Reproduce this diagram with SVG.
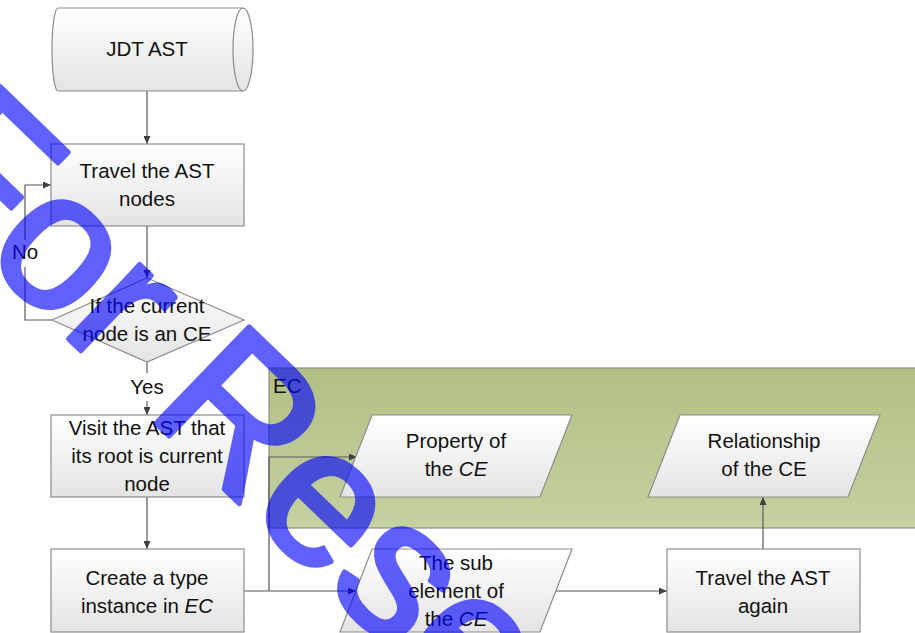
<svg xmlns="http://www.w3.org/2000/svg" width="915" height="633" viewBox="0 0 915 633">
<defs>
<linearGradient id="gNode" x1="0" y1="0" x2="0" y2="1">
<stop offset="0" stop-color="#ffffff"/><stop offset="1" stop-color="#e4e4e4"/>
</linearGradient>
<linearGradient id="gGreen" x1="0" y1="0" x2="0" y2="1">
<stop offset="0" stop-color="#b2c084"/><stop offset="1" stop-color="#c4d1a1"/>
</linearGradient>
<marker id="arr" markerWidth="8" markerHeight="7" refX="8" refY="3.5" orient="auto" markerUnits="userSpaceOnUse">
<path d="M0,0 L8,3.5 L0,7 Z" fill="#404040"/>
</marker>
</defs>
<style>
.n{fill:url(#gNode);stroke:#8c8c8c;stroke-width:1.2}
.t{font-family:"Liberation Sans",Arial,sans-serif;font-size:20.5px;fill:#111;text-anchor:middle}
.l{fill:none;stroke:#595959;stroke-width:1.2}
.a{marker-end:url(#arr)}
</style>
<rect width="915" height="633" fill="#ffffff"/>
<g id="ec">
<rect x="269" y="368" width="660" height="160" fill="url(#gGreen)" stroke="#8c8c8c" stroke-width="1.2"/>
<text x="273" y="393" class="t" style="text-anchor:start">EC</text>
</g>
<g id="connectors">
<path class="l a" d="M147,91 V144"/>
<path class="l a" d="M147,226 V278"/>
<path class="l" d="M52,320 H25 V267"/>
<path class="l a" d="M25,240 V185 H51"/>
<path class="l" d="M147,362 V373"/>
<path class="l a" d="M147,401 V415"/>
<path class="l a" d="M147,497 V549"/>
<path class="l a" d="M244,591 H356"/>
<path class="l a" d="M269,591 V457 H357"/>
<path class="l a" d="M556,591 H667"/>
<path class="l a" d="M763,549 V497"/>
</g>
<g id="jdt">
<path class="n" d="M58,8 H243 A10,41.5 0 0 1 243,91 H58 A6,41.5 0 0 1 58,8 Z"/>
<path d="M243,8 A10,41.5 0 0 0 243,91" fill="none" stroke="#8c8c8c" stroke-width="1.2"/>
<text x="147" y="56" class="t">JDT AST</text>
</g>
<g id="travel">
<rect class="n" x="51" y="144" width="193" height="82"/>
<text x="147" y="178" class="t">Travel the AST</text>
<text x="147" y="206" class="t">nodes</text>
</g>
<g id="decision">
<path class="n" d="M147,278 L244,320 L147,362 L52,320 Z"/>
<text x="147" y="313" class="t">If the current</text>
<text x="147" y="341" class="t">node is an CE</text>
</g>
<g id="no-label"><text x="25" y="259" class="t">No</text></g>
<g id="yes-label"><text x="147" y="394" class="t">Yes</text></g>
<g id="visit">
<rect class="n" x="51" y="415" width="193" height="82"/>
<text x="147" y="435" class="t">Visit the AST that</text>
<text x="147" y="463" class="t">its root is current</text>
<text x="147" y="491" class="t">node</text>
</g>
<g id="create">
<rect class="n" x="51" y="549" width="193" height="83"/>
<text x="147" y="585" class="t">Create a type</text>
<text x="147" y="613" class="t">instance in <tspan font-style="italic">EC</tspan></text>
</g>
<g id="property">
<path class="n" d="M372,415 H572 L540,497 H340 Z"/>
<text x="456" y="448" class="t">Property of</text>
<text x="456" y="476" class="t">the <tspan font-style="italic">CE</tspan></text>
</g>
<g id="relationship">
<path class="n" d="M680,415 H880 L848,497 H648 Z"/>
<text x="764" y="448" class="t">Relationship</text>
<text x="764" y="476" class="t">of the CE</text>
</g>
<g id="subelement">
<path class="n" d="M372,549 H572 L540,632 H340 Z"/>
<text x="456" y="570" class="t">The sub</text>
<text x="456" y="598" class="t">element of</text>
<text x="456" y="626" class="t">the <tspan font-style="italic">CE</tspan></text>
</g>
<g id="travel-again">
<rect class="n" x="667" y="549" width="193" height="83"/>
<text x="763" y="585" class="t">Travel the AST</text>
<text x="763" y="613" class="t">again</text>
</g>
<g id="watermark" opacity="0.62">
<text transform="translate(-105,171.5) rotate(44)" font-family="Liberation Sans, Arial, sans-serif" font-size="195" fill="#0000ff" stroke="#0000ff" stroke-width="5" stroke-linejoin="round">For Research</text>
</g>
</svg>
